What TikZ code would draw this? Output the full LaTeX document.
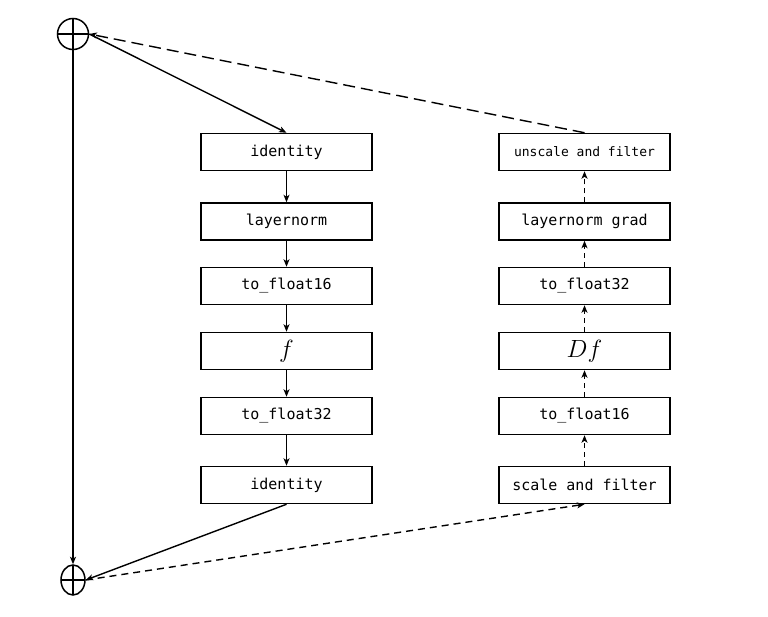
\documentclass[tikz,border=0pt]{standalone}
\usepackage{fontspec}
\setmonofont{DejaVu Sans Mono}
\usetikzlibrary{arrows.meta,shapes.geometric}
\begin{document}
\begin{tikzpicture}[x=1pt,y=-1pt,
  box/.style={draw,line width=1.5pt,minimum width=171pt,minimum height=37pt,inner sep=0pt,
    font=\ttfamily\fontsize{15}{18}\selectfont},
  sumnode/.style={draw,ellipse,line width=1.5pt,inner sep=0pt,
    path picture={\draw[line width=1.5pt] (path picture bounding box.north) -- (path picture bounding box.south)
      (path picture bounding box.west) -- (path picture bounding box.east);}},
  tip/.style={-{Stealth[length=7.5pt,width=6pt,inset=2pt]}},
  fwd/.style={tip,line width=1.4pt},
  bwd/.style={tip,line width=1.4pt,dash pattern=on 5pt off 4pt},
]
\useasboundingbox (0,0) rectangle (768,616);
\node[sumnode,minimum width=31pt,minimum height=31pt] (top) at (73,34) {};
\node[sumnode,minimum width=24pt,minimum height=30pt] (bot) at (73,580) {};

\node[box] (l1) at (286.5,152) {identity};
\node[box] (l2) at (286.5,221.5) {layernorm};
\node[box] (l3) at (286.5,286) {to\_float16};
\node[box] (l4) at (286.5,351) {\fontsize{25}{28}\selectfont$f$};
\node[box] (l5) at (286.5,416) {to\_float32};
\node[box] (l6) at (286.5,485) {identity};

\node[box] (r1) at (584.5,152) {\fontsize{13}{16}\selectfont unscale and filter};
\node[box] (r2) at (584.5,221.5) {layernorm grad};
\node[box] (r3) at (584.5,286) {to\_float32};
\node[box] (r4) at (584.5,351) {\fontsize{25}{28}\selectfont$Df$};
\node[box] (r5) at (584.5,416) {to\_float16};
\node[box] (r6) at (584.5,485) {scale and filter};

\draw[fwd] (top.east) -- (l1.north);
\draw[fwd] (l1) -- (l2);
\draw[fwd] (l2) -- (l3);
\draw[fwd] (l3) -- (l4);
\draw[fwd] (l4) -- (l5);
\draw[fwd] (l5) -- (l6);
\draw[fwd] (l6.south) -- (bot.east);
\draw[fwd] (top.south) -- (bot.north);

\draw[bwd,dash pattern=on 7pt off 5pt] (bot.east) -- (r6.south);
\draw[bwd] (r6) -- (r5);
\draw[bwd] (r5) -- (r4);
\draw[bwd] (r4) -- (r3);
\draw[bwd] (r3) -- (r2);
\draw[bwd] (r2) -- (r1);
\draw[bwd,dash pattern=on 12pt off 6pt] (r1.north) -- (top.east);
\end{tikzpicture}
\end{document}
